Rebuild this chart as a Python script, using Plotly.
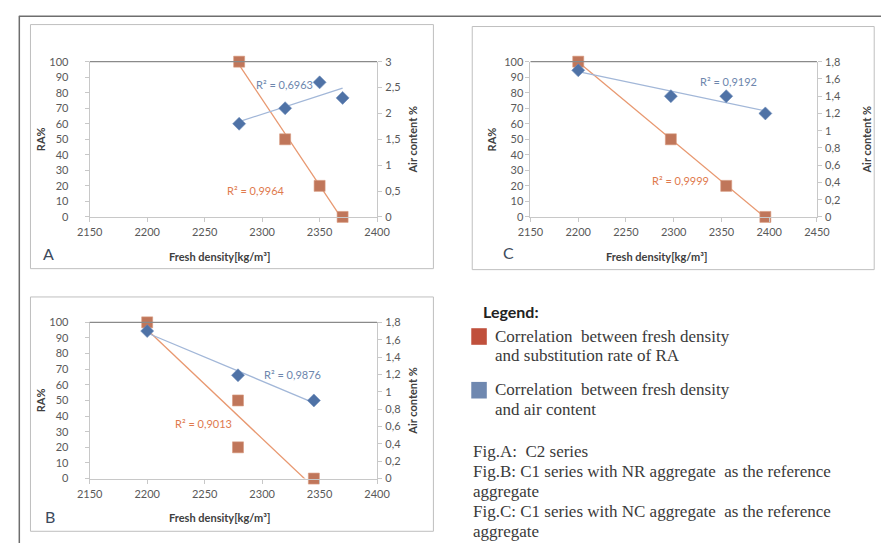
import numpy as np
import plotly.graph_objects as go

W, H = 894, 549

# ---- data -------------------------------------------------------------
# Fig.A: C2 series
a_density_ra = [2280, 2320, 2350, 2370]
a_ra = [100, 50, 20, 0]
a_density_air = [2280, 2320, 2350, 2370]
a_air = [1.8, 2.1, 2.6, 2.3]
a_r2_ra = "R² = 0,9964"
a_r2_air = "R² = 0,6963"

# Fig.B: C1 series with NR aggregate as the reference aggregate
b_density_ra = [2200, 2279, 2279, 2345]
b_ra = [100, 50, 20, 0]
b_density_air = [2200, 2279, 2345]
b_air = [1.7, 1.19, 0.9]
b_r2_ra = "R² = 0,9013"
b_r2_air = "R² = 0,9876"

# Fig.C: C1 series with NC aggregate as the reference aggregate
c_density_ra = [2200, 2297, 2355, 2396]
c_ra = [100, 50, 20, 0]
c_density_air = [2200, 2297, 2355, 2396]
c_air = [1.7, 1.4, 1.4, 1.2]
c_r2_ra = "R² = 0,9999"
c_r2_air = "R² = 0,9192"

# ---- tick labels ------------------------------------------------------
x_ticks_ab = [2150, 2200, 2250, 2300, 2350, 2400]
x_ticks_c = [2150, 2200, 2250, 2300, 2350, 2400, 2450]
ra_ticks = [0, 10, 20, 30, 40, 50, 60, 70, 80, 90, 100]
air_ticks_a = [0, 0.5, 1, 1.5, 2, 2.5, 3]
air_ticks_bc = [0, 0.2, 0.4, 0.6, 0.8, 1, 1.2, 1.4, 1.6, 1.8]

x_title = "Fresh density[kg/m³]"
ra_title = "RA%"
air_title = "Air content %"


def comma(v):
    s = f"{v:g}"
    return s.replace(".", ",")


# ---- style ------------------------------------------------------------
ORANGE_MK = "#c0765a"
ORANGE_LN = "#e89870"
ORANGE_TX = "#e07a4e"
BLUE_MK = "#4f72a6"
BLUE_LN = "#a2b7d8"
BLUE_TX = "#6d86ad"
TICK_FONT = dict(family="Lato", size=11, color="#595959")
BOLD_TITLE = dict(family="Lato", size=11, color="#404040", weight="bold")
AXIS_GREY = "#c8c8c8"


def px(x):
    return x / W


def py(y):
    return 1 - y / H


fig = go.Figure()

# plot areas in pixels: (left, right, top, bottom), label and title offsets
panels = {
    "A": dict(box=(79, 375, 56, 215), xr=[2150, 2400], xt=x_ticks_ab,
              airmax=3, airt=air_ticks_a, ra_axis_title=True, ra_label_off=14,
              air_standoff=9,
              dra=a_density_ra, ra=a_ra, dair=a_density_air, air=a_air),
    "B": dict(box=(79, 375, 323, 483), xr=[2150, 2400], xt=x_ticks_ab,
              airmax=1.8, airt=air_ticks_bc, ra_axis_title=True, ra_label_off=14,
              air_standoff=9,
              dra=b_density_ra, ra=b_ra, dair=b_density_air, air=b_air),
    "C": dict(box=(533, 828, 56, 215), xr=[2150, 2450], xt=x_ticks_c,
              airmax=1.8, airt=air_ticks_bc, ra_axis_title=False, ra_label_off=0,
              air_standoff=23,
              dra=c_density_ra, ra=c_ra, dair=c_density_air, air=c_air),
}

common_axis = dict(
    ticks="outside", ticklen=4, tickcolor=AXIS_GREY,
    showline=True, linecolor=AXIS_GREY, linewidth=1,
    showgrid=False, zeroline=False, tickfont=TICK_FONT, fixedrange=True,
)

layout_axes = {}
for i, (name, p) in enumerate(panels.items()):
    l, r, t, b = p["box"]
    xn = "x" if i == 0 else f"x{i + 1}"
    yl = f"y{2 * i + 1}" if i else "y"
    yr = f"y{2 * i + 2}"
    xkey = "xaxis" if i == 0 else f"xaxis{i + 1}"
    ylkey = "yaxis" if i == 0 else f"yaxis{2 * i + 1}"
    yrkey = f"yaxis{2 * i + 2}"

    layout_axes[xkey] = dict(
        domain=[px(l), px(r)], range=p["xr"], anchor=yl,
        tickvals=p["xt"], ticktext=[str(v) for v in p["xt"]],
        ticklabelstandoff=1, **common_axis,
    )
    layout_axes[ylkey] = dict(
        domain=[py(b), py(t)], range=[0, 100], anchor=xn,
        tickvals=ra_ticks, ticktext=[str(v) for v in ra_ticks],
        ticklabelstandoff=p["ra_label_off"],
        **common_axis,
    )
    if p["ra_axis_title"]:
        layout_axes[ylkey]["title"] = dict(text=ra_title, font=BOLD_TITLE, standoff=1)
    layout_axes[yrkey] = dict(
        domain=[py(b), py(t)], range=[0, p["airmax"]], anchor=xn,
        overlaying=yl, side="right",
        tickvals=p["airt"], ticktext=[comma(v) for v in p["airt"]],
        ticklabelstandoff=1,
        title=dict(text=air_title, font=BOLD_TITLE, standoff=p["air_standoff"]),
        **common_axis,
    )

    # linear trendlines fitted to each series
    for dx, dy, yax, col in ((p["dair"], p["air"], yr, BLUE_LN),
                             (p["dra"], p["ra"], yl, ORANGE_LN)):
        k, c0 = np.polyfit(dx, dy, 1)
        xs = np.array([min(dx), max(dx)], dtype=float)
        fig.add_trace(go.Scatter(
            x=xs, y=k * xs + c0, xaxis=xn, yaxis=yax, mode="lines",
            line=dict(color=col, width=1.3), hoverinfo="skip", showlegend=False,
        ))

    fig.add_trace(go.Scatter(
        x=p["dair"], y=p["air"], xaxis=xn, yaxis=yr, mode="markers",
        marker=dict(symbol="diamond", size=10, color=BLUE_MK,
                    line=dict(color="#6f8dbb", width=0.6)),
        cliponaxis=False, showlegend=False,
    ))
    fig.add_trace(go.Scatter(
        x=p["dra"], y=p["ra"], xaxis=xn, yaxis=yl, mode="markers",
        marker=dict(symbol="square", size=11, color=ORANGE_MK,
                    line=dict(color="#d99a80", width=0.6)),
        cliponaxis=False, showlegend=False,
    ))

fig.update_layout(**layout_axes)

shapes = []
annotations = []

# outer frame (top and left edges)
shapes.append(dict(type="line", xref="paper", yref="paper",
                   x0=px(6), x1=px(894), y0=py(9.5), y1=py(9.5),
                   line=dict(color="#6e6e6e", width=1.5)))
shapes.append(dict(type="line", xref="paper", yref="paper",
                   x0=px(6.5), x1=px(6.5), y0=py(9.5), y1=py(549),
                   line=dict(color="#6e6e6e", width=1.5)))

# chart frames
for x0, y0, x1, y1 in ((18, 18, 433, 268), (473, 20, 887, 269), (18, 297, 433, 537)):
    shapes.append(dict(type="rect", xref="paper", yref="paper",
                       x0=px(x0), x1=px(x1), y0=py(y1), y1=py(y0),
                       line=dict(color="#bfbfbf", width=1)))

# dark top edge of each plot area
for p in panels.values():
    l, r, t, b = p["box"]
    shapes.append(dict(type="line", xref="paper", yref="paper",
                       x0=px(l), x1=px(r), y0=py(t), y1=py(t),
                       line=dict(color="#8a8a8a", width=1.3)))


def text(x, y, s, font, xanchor="center", yanchor="middle", angle=0):
    annotations.append(dict(xref="paper", yref="paper", x=px(x), y=py(y),
                            text=s, showarrow=False, font=font,
                            xanchor=xanchor, yanchor=yanchor, textangle=angle))


R2_BLUE = dict(family="Lato", size=11, color=BLUE_TX)
R2_ORANGE = dict(family="Lato", size=11, color=ORANGE_TX)
LETTER = dict(family="Lato", size=16, color="#3d4a5c")

# x-axis titles and panel letters
for (cx, ty, letter_x, letter_y, letter) in (
        (213, 256, 37, 252, "A"),
        (213, 523, 38, 522, "B"),
        (663, 256, 510, 251, "C")):
    text(cx, ty, x_title, BOLD_TITLE)
    text(letter_x, letter_y, letter, LETTER)

# left title of panel C
text(493, 136, ra_title, BOLD_TITLE, angle=-90)

# R² labels
text(280, 79, a_r2_air, R2_BLUE)
text(250, 188, a_r2_ra, R2_ORANGE)
text(288, 376, b_r2_air, R2_BLUE)
text(196, 427, b_r2_ra, R2_ORANGE)
text(737, 76, c_r2_air, R2_BLUE)
text(687, 178, c_r2_ra, R2_ORANGE)

# legend block
LEG_HEAD = dict(family="Lato", size=16, color="#222222", weight="bold")
SERIF = dict(family="Liberation Serif", size=17, color="#3a3a3a")
text(482, 312, "Legend:", LEG_HEAD, xanchor="left")
shapes.append(dict(type="rect", xref="paper", yref="paper",
                   x0=px(472), x1=px(488), y0=py(346), y1=py(329),
                   fillcolor="#c0503c", line=dict(width=0)))
shapes.append(dict(type="rect", xref="paper", yref="paper",
                   x0=px(472), x1=px(488), y0=py(401), y1=py(384),
                   fillcolor="#6f88b0", line=dict(width=0)))
text(494, 337, "Correlation  between fresh density", SERIF, xanchor="left")
text(494, 357, "and substitution rate of RA", SERIF, xanchor="left")
text(494, 392, "Correlation  between fresh density", SERIF, xanchor="left")
text(494, 412, "and air content", SERIF, xanchor="left")
text(472, 455, "Fig.A:  C2 series", SERIF, xanchor="left")
text(472, 476, "Fig.B: C1 series with NR aggregate  as the reference", SERIF, xanchor="left")
text(472, 496, "aggregate", SERIF, xanchor="left")
text(472, 517, "Fig.C: C1 series with NC aggregate  as the reference", SERIF, xanchor="left")
text(472, 537, "aggregate", SERIF, xanchor="left")

fig.update_layout(
    width=W, height=H, margin=dict(l=0, r=0, t=0, b=0),
    paper_bgcolor="white", plot_bgcolor="white",
    shapes=shapes, annotations=annotations, showlegend=False,
)

fig.write_html("out.html")
